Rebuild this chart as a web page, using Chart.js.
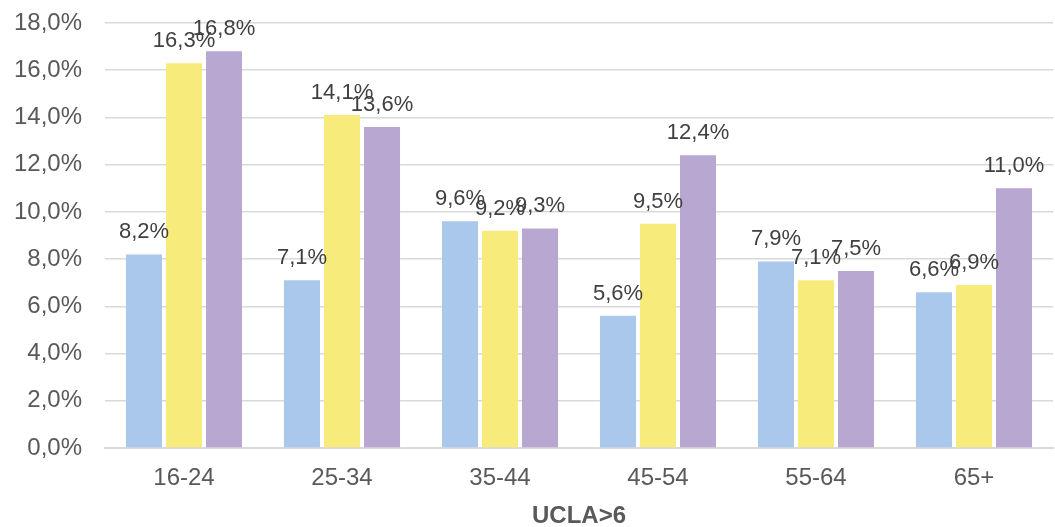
<!DOCTYPE html>
<html>
<head>
<meta charset="utf-8">
<script src="https://cdn.jsdelivr.net/npm/chart.js@4"></script>
<style>
  html, body { margin: 0; padding: 0; background: #ffffff; }
  #wrap { width: 1055px; height: 527px; position: relative; }
</style>
</head>
<body>
<div id="wrap"><canvas id="chart"></canvas></div>
<script>
// Age groups along the x axis
const ageGroups = ['16-24', '25-34', '35-44', '45-54', '55-64', '65+'];

// Share of respondents with UCLA loneliness score above 6 (%)
const seriesBlue   = [8.2, 7.1, 9.6, 5.6, 7.9, 6.6];
const seriesYellow = [16.3, 14.1, 9.2, 9.5, 7.1, 6.9];
const seriesPurple = [16.8, 13.6, 9.3, 12.4, 7.5, 11.0];

// Y axis range (%)
const yMin = 0;
const yMax = 18;
const yStep = 2;

const FONT = '"Liberation Sans", Arial, sans-serif';

function pct(v) {
  return v.toFixed(1).replace('.', ',') + '%';
}

// Writes each bar's value just above it
const valueLabels = {
  id: 'valueLabels',
  afterDatasetsDraw(chart) {
    const ctx = chart.ctx;
    ctx.save();
    ctx.font = '22px ' + FONT;
    ctx.fillStyle = '#404040';
    ctx.textAlign = 'center';
    ctx.textBaseline = 'alphabetic';
    chart.data.datasets.forEach((ds, di) => {
      const meta = chart.getDatasetMeta(di);
      meta.data.forEach((bar, i) => {
        ctx.fillText(pct(ds.data[i]), bar.x, bar.y - 16);
      });
    });
    ctx.restore();
  }
};

new Chart(document.getElementById('chart'), {
  type: 'bar',
  data: {
    labels: ageGroups,
    datasets: [
      { data: seriesBlue,   backgroundColor: '#a9c8eb' },
      { data: seriesYellow, backgroundColor: '#f7ec7b' },
      { data: seriesPurple, backgroundColor: '#b8a7d0' }
    ]
  },
  options: {
    responsive: true,
    maintainAspectRatio: false,
    animation: false,
    categoryPercentage: 0.76,
    barPercentage: 0.9,
    layout: { padding: { top: 23, left: 14, right: 2, bottom: 0 } },
    plugins: {
      legend: { display: false },
      tooltip: { enabled: false }
    },
    scales: {
      x: {
        afterFit: (s) => { s.height = 79; },
        grid: { display: false, drawTicks: false },
        border: { display: true, color: '#d9d9d9', width: 2 },
        ticks: {
          color: '#595959',
          font: { family: FONT, size: 24, lineHeight: 1 },
          padding: 18
        },
        title: {
          display: true,
          text: 'UCLA>6',
          color: '#595959',
          font: { family: FONT, size: 24, weight: 'bold', lineHeight: 0.85 },
          padding: { top: 0, bottom: 0 }
        }
      },
      y: {
        min: yMin,
        max: yMax,
        afterFit: (s) => { s.width = 91; s.paddingTop = 0; s.paddingBottom = 0; },
        grid: { color: '#d9d9d9', lineWidth: 1.5, drawTicks: false },
        border: { display: false },
        ticks: {
          stepSize: yStep,
          color: '#595959',
          font: { family: FONT, size: 24 },
          padding: 23,
          callback: (v) => pct(v)
        }
      }
    }
  },
  plugins: [valueLabels]
});
</script>
</body>
</html>
